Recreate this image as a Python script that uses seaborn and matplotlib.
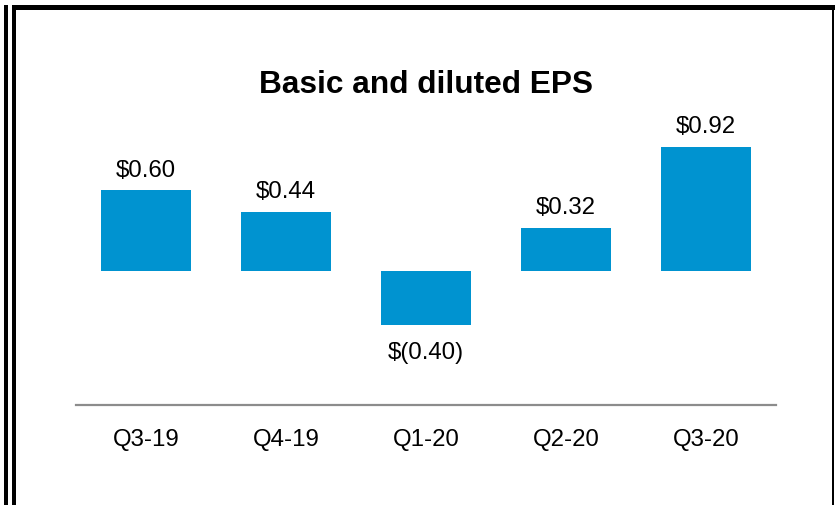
import matplotlib
matplotlib.use("Agg")
import matplotlib.pyplot as plt
from matplotlib.patches import Rectangle
import seaborn as sns
import pandas as pd

quarters = ["Q3-19", "Q4-19", "Q1-20", "Q2-20", "Q3-20"]
eps = [0.60, 0.44, -0.40, 0.32, 0.92]
labels = ["$0.60", "$0.44", "$(0.40)", "$0.32", "$0.92"]
title = "Basic and diluted EPS"

sns.set_style("white")
plt.rcParams["font.family"] = ["Liberation Sans", "DejaVu Sans"]

W, H = 835, 505
fig = plt.figure(figsize=(W / 100, H / 100), dpi=100)
ax = fig.add_axes([76 / W, (H - 405) / H, 700 / W, 275 / H])

df = pd.DataFrame({"q": quarters, "eps": eps})
sns.barplot(data=df, x="q", y="eps", color="#0093D0", saturation=1, width=0.643,
            linewidth=0, ax=ax)

ax.set_xlim(-0.5, 4.5)
ax.set_ylim(-0.993, 1.044)
for s in ["top", "right", "left"]:
    ax.spines[s].set_visible(False)
ax.spines["bottom"].set_color("#8c8c8c")
ax.spines["bottom"].set_linewidth(1.6)
ax.set_yticks([])
ax.set_xlabel("")
ax.set_ylabel("")
ax.tick_params(axis="x", length=0, pad=17, labelsize=17.3, labelcolor="black")

for i, (v, lab) in enumerate(zip(eps, labels)):
    if v >= 0:
        ax.annotate(lab, (i, v), xytext=(0, 6), textcoords="offset points",
                    ha="center", va="bottom", fontsize=17.3, color="black")
    else:
        ax.annotate(lab, (i, v), xytext=(0, -12.5), textcoords="offset points",
                    ha="center", va="top", fontsize=17.3, color="black")

fig.text(426 / W, 1 - 85 / H, title, ha="center", va="center",
         fontsize=22.8, fontweight="bold", color="black")

# frame lines
def rect(x0, y0, x1, y1):
    fig.add_artist(Rectangle((x0 / W, 1 - y1 / H), (x1 - x0) / W, (y1 - y0) / H,
                             transform=fig.transFigure, color="black", lw=0))

rect(4, 5, 8, H)
rect(12, 5, 16, H)
rect(12, 5, W, 10)
rect(832, 5, 834, H)

fig.savefig("out.png", dpi=100)
